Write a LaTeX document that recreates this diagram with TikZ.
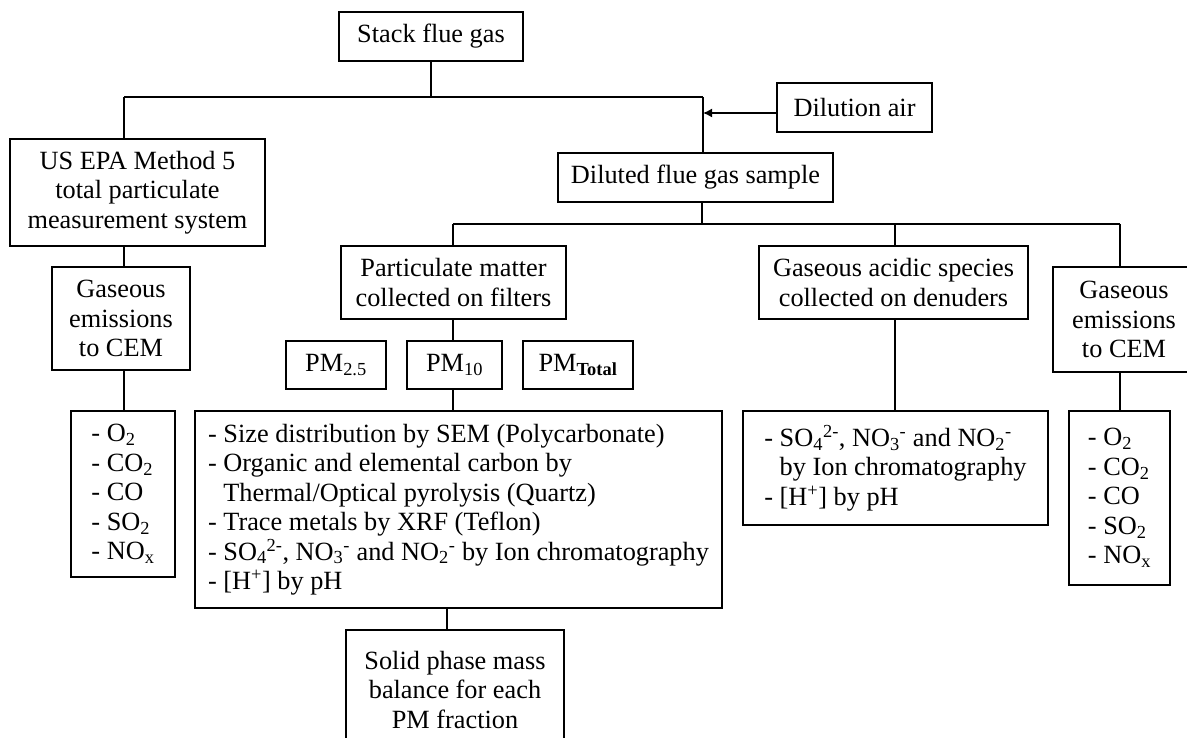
\documentclass[tikz,border=0pt]{standalone}
\usepackage{fontspec}
\setmainfont{Liberation Serif}
\usetikzlibrary{arrows.meta}
\newcommand\boxfont{\fontsize{26.3}{29.5}\selectfont}
\begin{document}
\begin{tikzpicture}[x=1pt,y=-1pt,
  box/.style={draw, line width=1.5pt, inner sep=0pt, align=center, font=\boxfont},
  ln/.style={line width=1.5pt},
  arr/.style={line width=1.5pt,-{Latex[length=9pt,width=9pt]}}]
\useasboundingbox (0,0) rectangle (1187,738);
\clip (0,0) rectangle (1187,738);
% boxes
\node[box, minimum width=184pt, minimum height=49pt] (stack) at (431,36.5) {Stack flue gas};
\node[box, minimum width=155pt, minimum height=49pt] (dil) at (854.5,107.5) {Dilution air};
\node[box, minimum width=275pt, minimum height=49pt] (dfg) at (695.5,177.5) {Diluted flue gas sample};
\node[box, minimum width=255pt, minimum height=107pt] (epa) at (137.5,192.5) {US EPA Method 5\\total particulate\\measurement system};
\node[box, minimum width=138pt, minimum height=103pt] (gasL) at (121,318.5) {Gaseous\\emissions\\to CEM};
\node[box, minimum width=104pt, minimum height=166pt, align=left] (listL) at (123,494) {- O\textsubscript{2}\\- CO\textsubscript{2}\\- CO\\- SO\textsubscript{2}\\- NO\textsubscript{x}};
\node[box, minimum width=225pt, minimum height=73pt] (pm) at (453.5,282.5) {Particulate matter\\collected on filters};
\node[box, minimum width=100pt, minimum height=48pt] (pm25) at (336,365) {PM\textsubscript{2.5}};
\node[box, minimum width=95pt, minimum height=48pt] (pm10) at (454.5,365) {PM\textsubscript{10}};
\node[box, minimum width=110pt, minimum height=48pt] (pmt) at (578,365) {PM\textsubscript{\textbf{Total}}};
\node[box, minimum width=527pt, minimum height=197pt, align=left] (bigtext) at (458.5,509.5) {- Size distribution by SEM (Polycarbonate)\\- Organic and elemental carbon by\\\phantom{- }Thermal/Optical pyrolysis (Quartz)\\- Trace metals by XRF (Teflon)\\- SO\textsubscript{4}\textsuperscript{2-}, NO\textsubscript{3}\textsuperscript{-} and NO\textsubscript{2}\textsuperscript{-} by Ion chromatography\\- [H\textsuperscript{+}] by pH};
\node[box, minimum width=218pt, minimum height=120pt] (solid) at (455,690) {Solid phase mass\\balance for each\\PM fraction};
\node[box, minimum width=269pt, minimum height=73pt] (acid) at (893.5,282.5) {Gaseous acidic species\\collected on denuders};
\node[box, minimum width=305pt, minimum height=114pt, align=left] (acidl) at (895.5,468) {- SO\textsubscript{4}\textsuperscript{2-}, NO\textsubscript{3}\textsuperscript{-} and NO\textsubscript{2}\textsuperscript{-}\\\phantom{- }by Ion chromatography\\- [H\textsuperscript{+}] by pH};
\node[box, minimum width=142pt, minimum height=105pt] (gasR) at (1124,319.5) {Gaseous\\emissions\\to CEM};
\node[box, minimum width=101pt, minimum height=174pt, align=left] (listR) at (1119.5,498) {- O\textsubscript{2}\\- CO\textsubscript{2}\\- CO\\- SO\textsubscript{2}\\- NO\textsubscript{x}};
% junction points
\coordinate (a) at (124,97);
\coordinate (b) at (703,97);
\coordinate (c) at (453,224);
\coordinate (d) at (702,224);
\coordinate (e) at (895,224);
\coordinate (f) at (1120,224);
\coordinate (g) at (447,608);
\coordinate (dilw) at ([yshift=-5.5pt]dil.west);
% connectors
\draw[ln] (stack.south) -- (stack.south |- a);
\draw[ln] (a) -- (b);
\draw[ln] (a) -- (a |- epa.north);
\draw[ln] (b) -- (b |- dfg.north);
\draw[arr] (dilw) -- (dilw -| b);
\draw[ln] (a |- epa.south) -- (a |- gasL.north);
\draw[ln] (a |- gasL.south) -- (a |- listL.north);
\draw[ln] (d |- dfg.south) -- (d);
\draw[ln] (c) -- (f);
\draw[ln] (c) -- (c |- pm.north);
\draw[ln] (c |- pm.south) -- (c |- pm10.north);
\draw[ln] (c |- pm10.south) -- (c |- bigtext.north);
\draw[ln] (g |- bigtext.south) -- (g |- solid.north);
\draw[ln] (e) -- (e |- acid.north);
\draw[ln] (e |- acid.south) -- (e |- acidl.north);
\draw[ln] (f) -- (f |- gasR.north);
\draw[ln] (f |- gasR.south) -- (f |- listR.north);
\end{tikzpicture}
\end{document}
